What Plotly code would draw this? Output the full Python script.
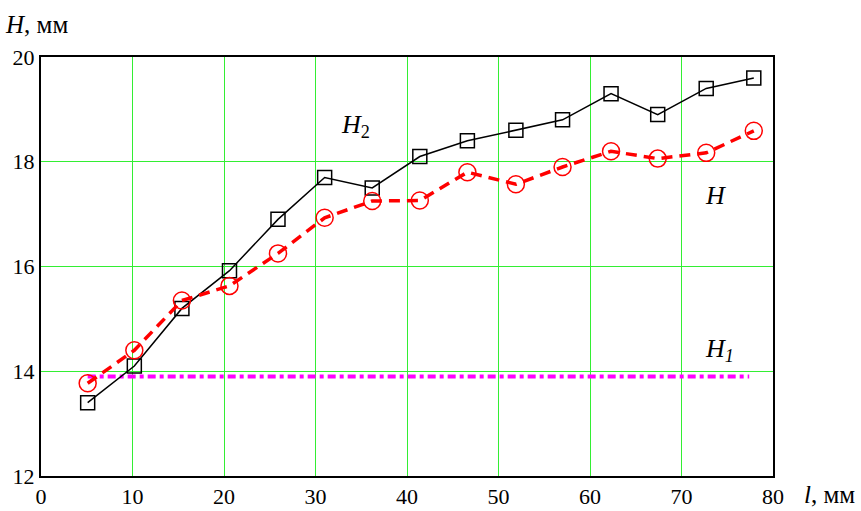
import plotly.graph_objects as go

l_vals = [5.1, 10.2, 15.4, 20.6, 25.9, 31.0, 36.2, 41.4, 46.6, 51.9, 57.0, 62.3, 67.4, 72.7, 77.9]
H2_vals = [13.4, 14.1, 15.2, 15.92, 16.9, 17.7, 17.5, 18.1, 18.4, 18.6, 18.8, 19.3, 18.9, 19.4, 19.6]
H_vals = [13.77, 14.4, 15.35, 15.63, 16.25, 16.93, 17.25, 17.26, 17.8, 17.57, 17.9, 18.2, 18.06, 18.17, 18.59]
H1_x = [5.1, 77.4]
H1_vals = [13.9, 13.9]

x_ticks = [0, 10, 20, 30, 40, 50, 60, 70, 80]
y_ticks = [12, 14, 16, 18, 20]

FONT = "Liberation Serif, Times New Roman, Times, serif"

fig = go.Figure()
fig.add_trace(go.Scatter(x=H1_x, y=H1_vals, mode="lines",
                         line=dict(color="#ff00ff", width=4, dash="8px,4px,4px,4px"),
                         showlegend=False))
fig.add_trace(go.Scatter(x=l_vals, y=H2_vals, mode="lines+markers",
                         line=dict(color="black", width=1.5),
                         marker=dict(symbol="square-open", size=14, color="black",
                                     line=dict(width=1.5, color="black")),
                         showlegend=False))
fig.add_trace(go.Scatter(x=l_vals, y=H_vals, mode="lines+markers",
                         line=dict(color="#ff0000", width=3.5, dash="11px,7px"),
                         marker=dict(symbol="circle-open", size=17, color="#ff0000",
                                     line=dict(width=1.5, color="#ff0000")),
                         showlegend=False))

annots = [
    dict(x=34.4, y=18.68, text="<i>H</i><sub>2</sub>"),
    dict(x=73.7, y=17.35, text="<i>H</i>"),
    dict(x=74.2, y=14.4, text="<i>H</i><sub><i>1</i></sub>"),
]
for a in annots:
    fig.add_annotation(x=a["x"], y=a["y"], text=a["text"], showarrow=False,
                       font=dict(family=FONT, size=26, color="black"))

fig.add_annotation(xref="paper", yref="paper", x=-0.052, y=1.04, xanchor="left", yanchor="bottom",
                   text="<i>H</i>, мм", showarrow=False,
                   font=dict(family=FONT, size=25, color="black"))
fig.add_annotation(xref="paper", yref="paper", x=1.04, y=-0.008, xanchor="left", yanchor="top",
                   text="<i>l</i>, мм", showarrow=False,
                   font=dict(family=FONT, size=25, color="black"))

fig.update_xaxes(range=[0, 80], tickvals=x_ticks, ticktext=[str(v) for v in x_ticks],
                 showgrid=True, gridcolor="#33ee33", gridwidth=1,
                 showline=True, linecolor="black", linewidth=2, mirror=True,
                 ticks="", zeroline=False, automargin=False,
                 tickfont=dict(family=FONT, size=22, color="black"))
fig.update_yaxes(range=[12, 20], tickvals=y_ticks, ticktext=[str(v) for v in y_ticks],
                 showgrid=True, gridcolor="#33ee33", gridwidth=1,
                 showline=True, linecolor="black", linewidth=2, mirror=True,
                 ticks="", zeroline=False, automargin=False,
                 tickfont=dict(family=FONT, size=22, color="black"))

fig.update_layout(width=861, height=511, plot_bgcolor="white", paper_bgcolor="white",
                  font=dict(family=FONT, color="black"),
                  margin=dict(l=41, r=88, t=57, b=35))
fig.write_html("out.html", config={"displayModeBar": False},
               post_script="document.body.style.margin='0px';document.body.style.overflow='hidden';")
